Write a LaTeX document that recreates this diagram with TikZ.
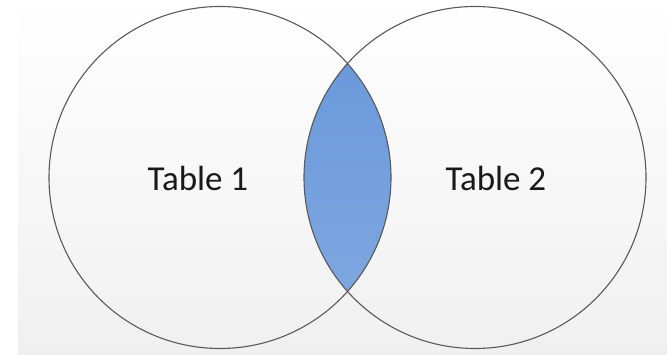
\documentclass[tikz,border=0pt]{standalone}
\usepackage{fontspec}
\setmainfont{Carlito}

\definecolor{lensTop}{RGB}{104,150,218}
\definecolor{lensBottom}{RGB}{128,170,225}

\begin{document}
\begin{tikzpicture}
[x=1pt,y=1pt,
  setDecorate/.style={shape=circle,draw=black!65,line width=1.1pt,minimum size=342pt,inner sep=0pt},
  labelDecorate/.style={font=\fontsize{35}{40}\selectfont,text=black!90}]
\useasboundingbox (0,0) rectangle (667,355);
%% background
\shade[top color=white,bottom color=black!6] (18,0) rectangle (667,355);
%% overlap of the two sets
\begin{scope}
  \clip (220,177.5) circle (171);
  \shade[top color=lensTop,bottom color=lensBottom] (475,177.5) circle (171);
\end{scope}
%% sets
\node (set1) at (220,177.5) [setDecorate] {};
\node (set2) at (475,177.5) [setDecorate] {};
%% labels
\node (label1) at (198,177) [labelDecorate] {Table 1};
\node (label2) at (496,177) [labelDecorate] {Table 2};
\end{tikzpicture}
\end{document}
